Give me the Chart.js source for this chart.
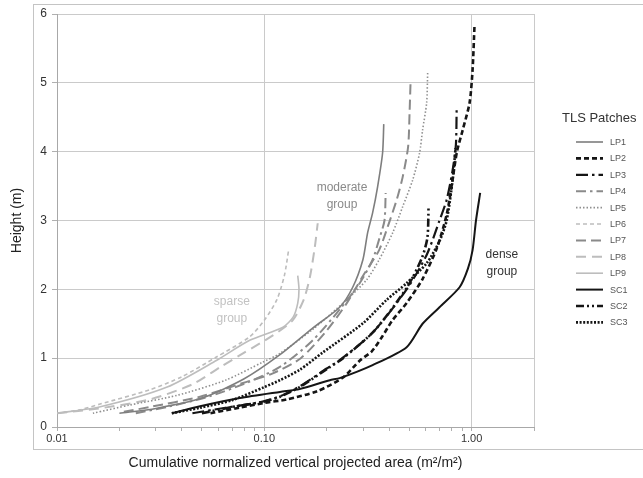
<!DOCTYPE html>
<html>
<head>
<meta charset="utf-8">
<script src="https://cdn.jsdelivr.net/npm/chart.js@4.4.1/dist/chart.umd.min.js"></script>
<style>
  html, body { margin: 0; padding: 0; background: #fff; }
</style>
</head>
<body>
<canvas id="chart" width="643" height="478"></canvas>
<script>
// [cumulative normalized vertical projected area, height (m)]

const LP1 = [[0.02,0.2],[0.03,0.27],[0.05,0.42],[0.08,0.7],[0.119,1.05],[0.17,1.43],[0.231,1.74],[0.267,2.03],[0.299,2.43],[0.315,2.82],[0.333,3.11],[0.352,3.49],[0.372,3.98],[0.377,4.4]];
const LP2 = [[0.055,0.2],[0.076,0.28],[0.1,0.35],[0.128,0.4],[0.18,0.52],[0.24,0.72],[0.29,0.97],[0.33,1.1],[0.37,1.31],[0.415,1.55],[0.486,1.8],[0.58,2.15],[0.68,2.6],[0.76,3.1],[0.81,3.6],[0.85,4.0],[0.905,4.31],[0.978,4.71],[1.011,5.19],[1.033,5.84]];
const LP3 = [[0.045,0.2],[0.065,0.28],[0.095,0.36],[0.12,0.45],[0.15,0.6],[0.2,0.85],[0.231,0.97],[0.333,1.37],[0.486,2.0],[0.607,2.5],[0.7,3.0],[0.758,3.3],[0.81,3.73],[0.84,4.1],[0.847,4.61]];
const LP4 = [[0.024,0.2],[0.035,0.3],[0.055,0.45],[0.085,0.66],[0.12,0.88],[0.17,1.25],[0.23,1.7],[0.29,2.1],[0.333,2.43],[0.36,2.75],[0.38,3.0],[0.385,3.4]];
const LP5 = [[0.0149,0.2],[0.0225,0.32],[0.038,0.46],[0.065,0.68],[0.098,0.94],[0.119,1.07],[0.17,1.41],[0.25,1.85],[0.312,2.14],[0.358,2.43],[0.416,2.82],[0.465,3.2],[0.52,3.59],[0.561,3.98],[0.58,4.31],[0.607,4.71],[0.614,5.16]];
const LP6 = [[0.01,0.2],[0.0129,0.25],[0.016,0.33],[0.028,0.54],[0.04,0.73],[0.059,1.02],[0.085,1.31],[0.1,1.55],[0.115,1.85],[0.125,2.2],[0.131,2.57]];
const LP7 = [[0.021,0.22],[0.028,0.29],[0.049,0.44],[0.079,0.64],[0.11,0.78],[0.15,1.0],[0.2,1.4],[0.25,1.8],[0.3,2.2],[0.358,2.57],[0.394,2.91],[0.435,3.3],[0.465,3.63],[0.494,4.07],[0.502,4.56],[0.508,5.04]];
const LP8 = [[0.01,0.2],[0.016,0.27],[0.028,0.4],[0.045,0.62],[0.062,0.88],[0.08,1.08],[0.11,1.33],[0.137,1.55],[0.155,1.85],[0.166,2.18],[0.175,2.6],[0.181,2.96]];
const LP9 = [[0.01,0.2],[0.016,0.29],[0.034,0.58],[0.059,0.97],[0.085,1.26],[0.123,1.45],[0.138,1.6],[0.145,1.8],[0.147,2.0],[0.145,2.2]];
const SC1 = [[0.0358,0.2],[0.049,0.3],[0.076,0.42],[0.119,0.51],[0.148,0.55],[0.207,0.68],[0.231,0.71],[0.333,0.9],[0.486,1.16],[0.58,1.5],[0.7,1.74],[0.875,2.03],[0.96,2.3],[1.011,2.57],[1.05,3.0],[1.1,3.4]];
const SC2 = [[0.05,0.2],[0.07,0.29],[0.1,0.37],[0.119,0.44],[0.148,0.58],[0.207,0.87],[0.24,1.0],[0.34,1.4],[0.486,2.02],[0.575,2.45],[0.612,2.75],[0.62,3.2]];
const SC3 = [[0.0358,0.2],[0.049,0.28],[0.07,0.39],[0.1,0.58],[0.119,0.68],[0.148,0.83],[0.191,1.08],[0.3,1.51],[0.39,1.85],[0.486,2.09],[0.607,2.38],[0.7,2.7],[0.758,3.0],[0.81,3.59],[0.837,4.05]];

const SERIES_NAMES = ["LP1","LP2","LP3","LP4","LP5","LP6","LP7","LP8","LP9","SC1","SC2","SC3"];
const SERIES_DATA  = [LP1, LP2, LP3, LP4, LP5, LP6, LP7, LP8, LP9, SC1, SC2, SC3];

const X_TICKS  = [0.01,0.02,0.03,0.04,0.05,0.06,0.07,0.08,0.09,0.1,0.2,0.3,0.4,0.5,0.6,0.7,0.8,0.9,1,2];
const X_MAJOR  = [0.01, 0.1, 1];
const Y_TICKS  = [0, 1, 2, 3, 4, 5, 6];

const GROUP_LABELS = [
    { lines: ["sparse", "group"],   x: 0.0697, y: [1.82, 1.58], color: "#c2c2c2" },
    { lines: ["moderate", "group"], x: 0.237,  y: [3.47, 3.23], color: "#8a8a8a" },
    { lines: ["dense", "group"],    x: 1.40,   y: [2.50, 2.25], color: "#333333" }
];

const BLACK = "#151515", GREY = "#8a8a8a", LIGHT = "#bdbdbd";
const STYLE = {
    LP1: { color: "#7e7e7e", width: 1.6, dash: [] },
    LP2: { color: BLACK,     width: 2.6, dash: [5, 3] },
    LP3: { color: BLACK,     width: 2.2, dash: [12, 4, 2.5, 4] },
    LP4: { color: GREY,      width: 2,   dash: [10, 4, 2.5, 4] },
    LP5: { color: "#909090", width: 1.6, dash: [1.5, 2] },
    LP6: { color: LIGHT,     width: 1.6, dash: [4, 3] },
    LP7: { color: GREY,      width: 2,   dash: [10, 5] },
    LP8: { color: LIGHT,     width: 2,   dash: [10, 6] },
    LP9: { color: LIGHT,     width: 1.6, dash: [] },
    SC1: { color: BLACK,     width: 2,   dash: [] },
    SC2: { color: BLACK,     width: 2.6, dash: [8, 3, 2, 3, 2, 3] },
    SC3: { color: BLACK,     width: 2.6, dash: [2, 1.6] }
};

const FONT = "'Liberation Sans', Arial, sans-serif";

const outerFrame = {
    id: "outerFrame",
    beforeDraw(chart) {
        const ctx = chart.ctx;
        ctx.save();
        ctx.strokeStyle = "#c4c4c4";
        ctx.lineWidth = 1;
        ctx.strokeRect(33.5, 4.5, 620, 445);
        ctx.restore();
    }
};

const groupText = {
    id: "groupText",
    afterDatasetsDraw(chart) {
        const { ctx, scales: { x, y } } = chart;
        ctx.save();
        ctx.font = `12px ${FONT}`;
        ctx.textAlign = "center";
        ctx.textBaseline = "middle";
        GROUP_LABELS.forEach(g => {
            ctx.fillStyle = g.color;
            g.lines.forEach((t, i) => ctx.fillText(t, x.getPixelForValue(g.x), y.getPixelForValue(g.y[i])));
        });
        ctx.restore();
    }
};

const sideLegend = {
    id: "sideLegend",
    afterDraw(chart) {
        const ctx = chart.ctx;
        ctx.save();
        ctx.textBaseline = "middle";
        ctx.fillStyle = "#333";
        ctx.font = `13px ${FONT}`;
        ctx.fillText("TLS Patches", 562, 118);
        ctx.font = `9px ${FONT}`;
        chart.data.datasets.forEach((ds, i) => {
            const yy = 142 + i * 16.4;
            ctx.strokeStyle = ds.borderColor;
            ctx.lineWidth   = ds.borderWidth;
            ctx.setLineDash(ds.borderDash);
            ctx.beginPath();
            ctx.moveTo(576, yy);
            ctx.lineTo(603, yy);
            ctx.stroke();
            ctx.setLineDash([]);
            ctx.fillStyle = "#555";
            ctx.fillText(ds.label, 610, yy + 0.5);
        });
        ctx.restore();
    }
};

new Chart(document.getElementById("chart").getContext("2d"), {
    type: "scatter",
    data: {
        datasets: SERIES_NAMES.map((name, i) => ({
            label      : name,
            data       : SERIES_DATA[i].map(([x, y]) => ({ x, y })),
            showLine   : true,
            borderColor: STYLE[name].color,
            borderWidth: STYLE[name].width,
            borderDash : STYLE[name].dash,
            tension    : 0.25,
            pointRadius: 0,
            fill       : false
        }))
    },
    options: {
        responsive: false,
        animation : false,
        devicePixelRatio: 1,
        layout: { padding: { left: 0, right: 109, top: 14, bottom: 0 } },
        plugins: { legend: { display: false }, tooltip: { enabled: false } },
        scales: {
            x: {
                type: "logarithmic",
                min : 0.01,
                max : 2,
                afterBuildTicks: s => { s.ticks = X_TICKS.map(v => ({ value: v })); },
                afterFit: s => { s.height = 51; },
                ticks: {
                    autoSkip   : false,
                    maxRotation: 0,
                    padding    : 1,
                    color      : "#333",
                    font       : { size: 11, family: FONT },
                    callback   : v => (X_MAJOR.includes(v) ? v.toFixed(2) : "")
                },
                grid: {
                    color     : c => (X_MAJOR.includes(c.tick?.value) || c.tick?.value === 2 ? "#cacaca" : "rgba(0,0,0,0)"),
                    tickColor : "#b0b0b0",
                    tickLength: 4
                },
                border: { color: "#a8a8a8" },
                title: {
                    display: true,
                    text   : "Cumulative normalized vertical projected area (m²/m²)",
                    color  : "#222",
                    font   : { size: 14, family: FONT },
                    padding: { top: 0, bottom: 6 }
                }
            },
            y: {
                min: 0,
                max: 6,
                afterBuildTicks: s => { s.ticks = Y_TICKS.map(v => ({ value: v })); },
                afterFit: s => { s.width = 57; },
                ticks: { color: "#333", padding: 5, font: { size: 12, family: FONT } },
                grid : { color: "#cacaca", tickColor: "#b0b0b0", tickLength: 5 },
                border: { color: "#a8a8a8" },
                title: {
                    display: true,
                    text   : "Height (m)",
                    color  : "#222",
                    font   : { size: 14, family: FONT },
                    padding: { top: 9 }
                }
            }
        }
    },
    plugins: [outerFrame, groupText, sideLegend]
});
</script>
</body>
</html>
